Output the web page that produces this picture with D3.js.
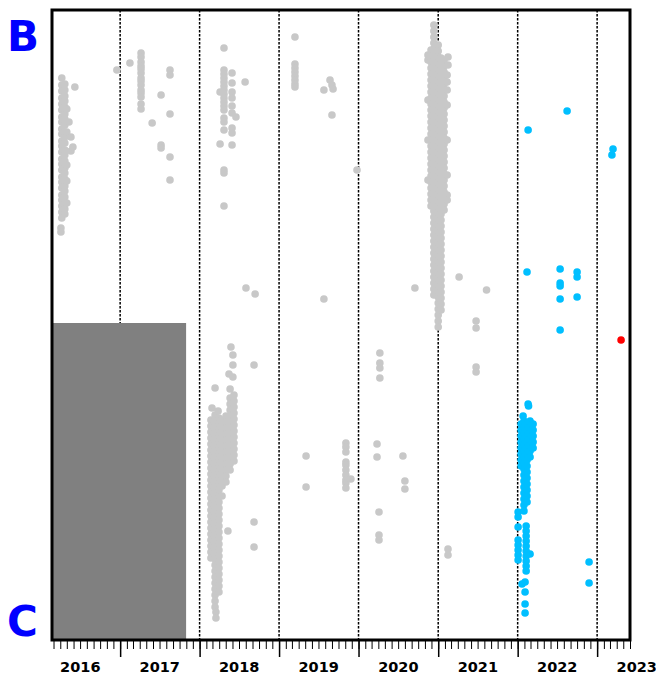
<!DOCTYPE html>
<html>
<head>
<meta charset="utf-8">
<script src="https://cdn.jsdelivr.net/npm/d3@7"></script>
<style>
  body { margin: 0; background: #fff; }
  text { font-family: "DejaVu Sans", Verdana, sans-serif; font-weight: bold; }
</style>
</head>
<body>
<svg id="chart" width="656" height="678"></svg>
<script>
// Tick labels and side labels
var yearLabels = [2016, 2017, 2018, 2019, 2020, 2021, 2022, 2023];
var rowLabels = ["B", "C"];

// Time window shown and the shaded span with no data
var timeSpan = ["2016-02-23", "2023-06-01"];
var noDataSpan = ["2016-02-23", "2017-10-31"];
var noDataTop = 31.7;
var valueSpan = [0, 63];

// Grey observations: [date, [values at that date]]
var grayCols = [
    ["2016-04-04", [41.2, 40.8]],
    ["2016-04-08", [56.2, 55.5, 54.9, 54.2, 53.6, 53.0, 52.3, 51.8, 51.1, 50.6, 49.9, 49.4, 48.8, 48.1, 47.6, 47.0, 46.3, 45.8, 45.2, 44.5, 44.0, 43.4, 42.8, 42.2]],
    ["2016-04-22", [55.6, 55.0, 54.4, 53.9, 53.3, 52.6, 52.1, 51.5, 50.8, 50.3, 49.7, 49.0, 48.5, 47.9, 47.2, 46.7, 46.1, 45.4, 44.9, 44.3, 43.6, 43.1, 42.6]],
    ["2016-05-01", [53.1, 50.8, 47.5, 45.9, 43.7]],
    ["2016-05-11", [51.8]],
    ["2016-05-20", [50.3, 48.9]],
    ["2016-05-29", [49.3]],
    ["2016-06-07", [55.3]],
    ["2016-12-17", [57.0]],
    ["2017-02-15", [57.7]],
    ["2017-04-07", [58.7, 58.3, 57.8, 57.4, 57.1, 56.7, 56.2, 55.9, 55.5, 55.0, 54.7, 54.3, 53.6, 53.1]],
    ["2017-05-28", [51.7]],
    ["2017-07-08", [54.5, 49.5, 49.2]],
    ["2017-08-18", [57.0, 56.5, 52.6, 48.3, 46.0]],
    ["2018-02-22", [22.0, 21.4, 20.8, 20.2, 19.6, 19.0, 18.4, 17.8, 17.2, 16.6, 16.0, 15.4, 14.8, 14.2, 13.6, 13.0, 12.4, 11.8, 11.2, 10.6, 10.0, 9.4, 8.8, 8.2]],
    ["2018-02-27", [23.2]],
    ["2018-03-13", [25.2, 22.5, 21.9, 21.3, 20.7, 20.1, 19.5, 18.9, 18.3, 17.7, 17.1, 16.5, 15.9, 15.3, 14.7, 14.1, 13.5, 12.9, 12.3, 11.7, 11.1, 10.5, 9.9, 9.3, 8.7, 8.1, 7.5, 6.9, 6.3, 5.7, 5.1, 4.5, 3.9, 3.3]],
    ["2018-03-17", [2.8, 2.2]],
    ["2018-03-27", [22.9]],
    ["2018-03-31", [22.2, 21.6, 21.0, 20.4, 19.8, 19.2, 18.6, 18.0, 17.4, 16.8, 16.2, 15.6, 15.0, 14.4, 13.8, 13.2, 12.6, 12.0, 11.4, 10.8, 10.2, 9.6, 9.0, 8.4, 7.8, 7.2, 6.6, 6.0, 5.4, 4.8]],
    ["2018-04-05", [54.8, 49.6]],
    ["2018-04-14", [22.0, 21.4, 20.8, 20.2, 19.6, 19.0, 18.4, 17.8, 17.2, 16.6, 16.0, 15.4, 14.4]],
    ["2018-04-23", [59.2, 57.0, 56.6, 56.2, 55.8, 55.4, 55.0, 54.6, 54.2, 53.8, 53.4, 53.0, 52.2, 51.8, 51.0, 47.0, 46.7, 43.4]],
    ["2018-05-02", [22.4, 21.8, 21.2, 20.6, 20.0, 19.4, 18.8, 18.2, 17.6, 17.0, 16.4, 15.8]],
    ["2018-05-11", [10.9]],
    ["2018-05-16", [26.6]],
    ["2018-05-21", [25.1, 24.2, 23.6, 23.0, 22.4, 21.8, 21.2, 20.6, 20.0, 19.4, 18.8, 18.2, 17.6, 17.0]],
    ["2018-05-25", [29.3]],
    ["2018-05-30", [56.7, 55.7, 54.8, 54.2, 53.4, 52.7, 51.2, 50.7, 49.5]],
    ["2018-06-03", [28.5, 27.5, 26.3]],
    ["2018-06-08", [24.5, 23.9, 23.3, 22.7, 22.1, 21.5, 20.9, 20.3, 19.7, 19.1, 18.5, 17.9]],
    ["2018-06-17", [52.3]],
    ["2018-07-29", [55.8]],
    ["2018-08-02", [35.2]],
    ["2018-09-08", [27.5, 11.8, 9.3]],
    ["2018-09-13", [34.6]],
    ["2019-03-15", [60.3, 57.6, 57.2, 56.8, 56.4, 56.0, 55.6, 55.3]],
    ["2019-05-05", [18.4, 15.3]],
    ["2019-07-26", [55.0, 34.1]],
    ["2019-08-23", [56.0]],
    ["2019-09-01", [55.5, 52.5]],
    ["2019-09-06", [55.1]],
    ["2019-11-04", [19.7, 19.3, 18.8, 17.8, 17.5, 17.0, 16.5, 16.0, 15.7, 15.2]],
    ["2019-11-27", [16.1]],
    ["2019-12-25", [47.0]],
    ["2020-03-26", [19.6, 18.3]],
    ["2020-04-04", [12.8, 10.5, 10.0]],
    ["2020-04-08", [28.7, 27.7, 27.2, 26.2]],
    ["2020-07-23", [18.4]],
    ["2020-08-01", [15.9, 15.1]],
    ["2020-09-16", [35.2]],
    ["2020-11-15", [58.5, 58.0, 54.0, 50.0, 46.0]],
    ["2020-11-29", [59.0, 58.4, 57.8, 57.2, 56.6, 56.0, 55.4, 54.8, 54.2, 53.6, 53.0, 52.4, 51.8, 51.2, 50.6, 50.0, 49.4, 48.8, 48.2, 47.6, 47.0, 46.4, 45.8, 45.2, 44.6, 44.0, 43.4]],
    ["2020-12-12", [61.5, 60.9, 60.3, 59.7, 59.1, 58.5, 57.9, 57.3, 56.7, 56.1, 55.5, 54.9, 54.3, 53.7, 53.1, 52.5, 51.9, 51.3, 50.7, 50.1, 49.5, 48.9, 48.3, 47.7, 47.1, 46.5, 45.9, 45.3, 44.7, 44.1, 43.5, 42.9, 42.3, 41.7, 41.1, 40.5, 39.9, 39.3, 38.7, 38.1, 37.5, 36.9, 36.3, 35.7, 35.1, 34.5]],
    ["2021-01-01", [59.5, 58.9, 58.3, 57.7, 57.1, 56.5, 55.9, 55.3, 54.7, 54.1, 53.5, 52.9, 52.3, 51.7, 51.1, 50.5, 49.9, 49.3, 48.7, 48.1, 47.5, 46.9, 46.3, 45.7, 45.1, 44.5, 43.9, 43.3, 42.7, 42.1, 41.5, 40.9, 40.3, 39.7, 39.1, 38.5, 37.9, 37.3, 36.7, 36.1, 35.5, 34.9, 34.3, 33.7, 33.1, 32.5, 31.9, 31.3]],
    ["2021-01-14", [58.2, 57.6, 57.0, 56.4, 55.8, 55.2, 54.6, 54.0, 53.4, 52.8, 52.2, 51.6, 51.0, 50.4, 49.8, 49.2, 48.6, 48.0, 47.4, 46.8, 46.2, 45.6, 45.0, 44.4, 43.8, 43.2, 42.6, 42.0, 41.4, 40.8, 40.2, 39.6, 39.0, 38.4, 37.8, 37.2, 36.6, 36.0, 35.4, 34.8, 34.2, 33.6, 33.0]],
    ["2021-01-28", [58.0, 57.4, 56.8, 56.2, 55.6, 55.0, 54.4, 53.8, 53.2, 52.6, 52.0, 51.4, 50.8, 50.2, 49.6, 49.0, 48.4, 47.8, 47.2, 46.6, 46.0, 45.4, 44.8, 44.2, 43.6, 43.0]],
    ["2021-02-11", [56.5, 55.8, 55.0, 53.5, 50.0, 46.5, 44.5, 44.0]],
    ["2021-02-15", [58.3, 57.5, 9.1, 8.5]],
    ["2021-04-07", [36.3]],
    ["2021-06-24", [31.9, 31.2, 27.3, 26.8]],
    ["2021-08-11", [35.0]]
];

// Blue observations
var cyanCols = [
    ["2022-01-03", [12.8, 12.3, 11.3, 10.0, 9.5, 9.0, 8.5, 8.0]],
    ["2022-01-17", [21.6, 21.0, 20.4, 19.8, 19.2, 18.6, 18.0, 17.4]],
    ["2022-01-21", [5.6]],
    ["2022-01-26", [22.4]],
    ["2022-01-30", [21.9, 21.3, 20.7, 20.1, 19.5, 18.9, 18.3, 17.7, 17.1, 16.5, 15.9, 15.3, 14.7, 14.1, 13.5, 12.9]],
    ["2022-02-04", [5.8, 4.8, 3.6, 2.7]],
    ["2022-02-09", [11.4, 10.9, 10.4, 9.9, 9.4, 8.9, 8.4, 7.9, 7.4, 6.9]],
    ["2022-02-13", [36.8, 21.6, 21.0, 20.4, 19.8, 19.2, 18.6, 18.0, 17.4, 16.8, 16.2, 15.6, 15.0, 14.4, 13.8]],
    ["2022-02-18", [51.0, 23.6]],
    ["2022-02-20", [23.4]],
    ["2022-02-27", [21.9, 21.3, 20.7, 20.1, 19.5, 18.9, 18.3, 8.6]],
    ["2022-03-13", [21.6, 21.0, 20.4, 19.8, 19.2]],
    ["2022-07-15", [37.1, 35.7, 35.4, 34.1, 31.0]],
    ["2022-08-16", [52.9]],
    ["2022-10-01", [36.8, 36.3, 34.3]],
    ["2022-11-25", [7.8, 5.7]],
    ["2023-03-10", [48.5]],
    ["2023-03-15", [49.1]]
];

// Red observation
var redCols = [
    ["2023-04-21", [30.0]]
];

var svg = d3.select("#chart");
var plotLeft = 52, plotRight = 630, plotTop = 10, plotBottom = 640;
var parse = d3.timeParse("%Y-%m-%d");

var x = d3.scaleTime()
    .domain(timeSpan.map(parse))
    .range([plotLeft, plotRight]);
var y = d3.scaleLinear()
    .domain(valueSpan)
    .range([plotBottom, plotTop]);

function flatten(cols) {
    var out = [];
    cols.forEach(function (c) {
        c[1].forEach(function (v) { out.push({ date: parse(c[0]), value: v }); });
    });
    return out;
}

//Year separators
svg.append("g").selectAll("line")
    .data(x.ticks(d3.timeYear.every(1)))
    .enter()
    .append("line")
    .attr("x1", function (d) { return x(d); })
    .attr("x2", function (d) { return x(d); })
    .attr("y1", plotTop)
    .attr("y2", plotBottom)
    .attr("stroke", "#000")
    .attr("stroke-width", 1.5)
    .attr("stroke-dasharray", "2.5,1.5");

//No data block
svg.append("rect")
    .attr("x", x(parse(noDataSpan[0])))
    .attr("y", y(noDataTop))
    .attr("width", x(parse(noDataSpan[1])) - x(parse(noDataSpan[0])))
    .attr("height", y(0) - y(noDataTop))
    .attr("fill", "#808080");

function drawPoints(cols, color) {
    svg.append("g").selectAll("circle")
        .data(flatten(cols))
        .enter()
        .append("circle")
        .attr("cx", function (d) { return x(d.date); })
        .attr("cy", function (d) { return y(d.value); })
        .attr("r", 3.8)
        .attr("fill", color);
}

drawPoints(grayCols, "#c8c8c8");
drawPoints(cyanCols, "#00bfff");
drawPoints(redCols, "#ff0000");

//Frame
svg.append("rect")
    .attr("x", plotLeft)
    .attr("y", plotTop)
    .attr("width", plotRight - plotLeft)
    .attr("height", plotBottom - plotTop)
    .attr("fill", "none")
    .attr("stroke", "#000")
    .attr("stroke-width", 3);

//Month and year ticks
var minorAxis = d3.axisBottom(x).ticks(d3.timeMonth.every(1)).tickSize(8).tickFormat("");
var majorAxis = d3.axisBottom(x).ticks(d3.timeYear.every(1)).tickSize(16).tickFormat("");

var gMinor = svg.append("g").attr("transform", "translate(0," + (plotBottom + 1) + ")").call(minorAxis);
var gMajor = svg.append("g").attr("transform", "translate(0," + (plotBottom + 1) + ")").call(majorAxis);
gMinor.select(".domain").remove();
gMajor.select(".domain").remove();
gMinor.selectAll("line").attr("stroke", "#000").attr("stroke-width", 1);
gMajor.selectAll("line").attr("stroke", "#000").attr("stroke-width", 1.5);

svg.append("g").selectAll("text")
    .data(yearLabels)
    .enter()
    .append("text")
    .attr("x", function (d) { return x(new Date(d, 6, 2)); })
    .attr("y", 672)
    .attr("text-anchor", "middle")
    .attr("font-size", "14.5px")
    .attr("fill", "#000")
    .text(function (d) { return d; });

//Row labels
svg.append("g").selectAll("text")
    .data(rowLabels)
    .enter()
    .append("text")
    .attr("x", 7)
    .attr("y", function (d, i) { return i === 0 ? 51 : 636; })
    .attr("font-size", "42px")
    .attr("fill", "#0000ff")
    .text(function (d) { return d; });
</script>
</body>
</html>
